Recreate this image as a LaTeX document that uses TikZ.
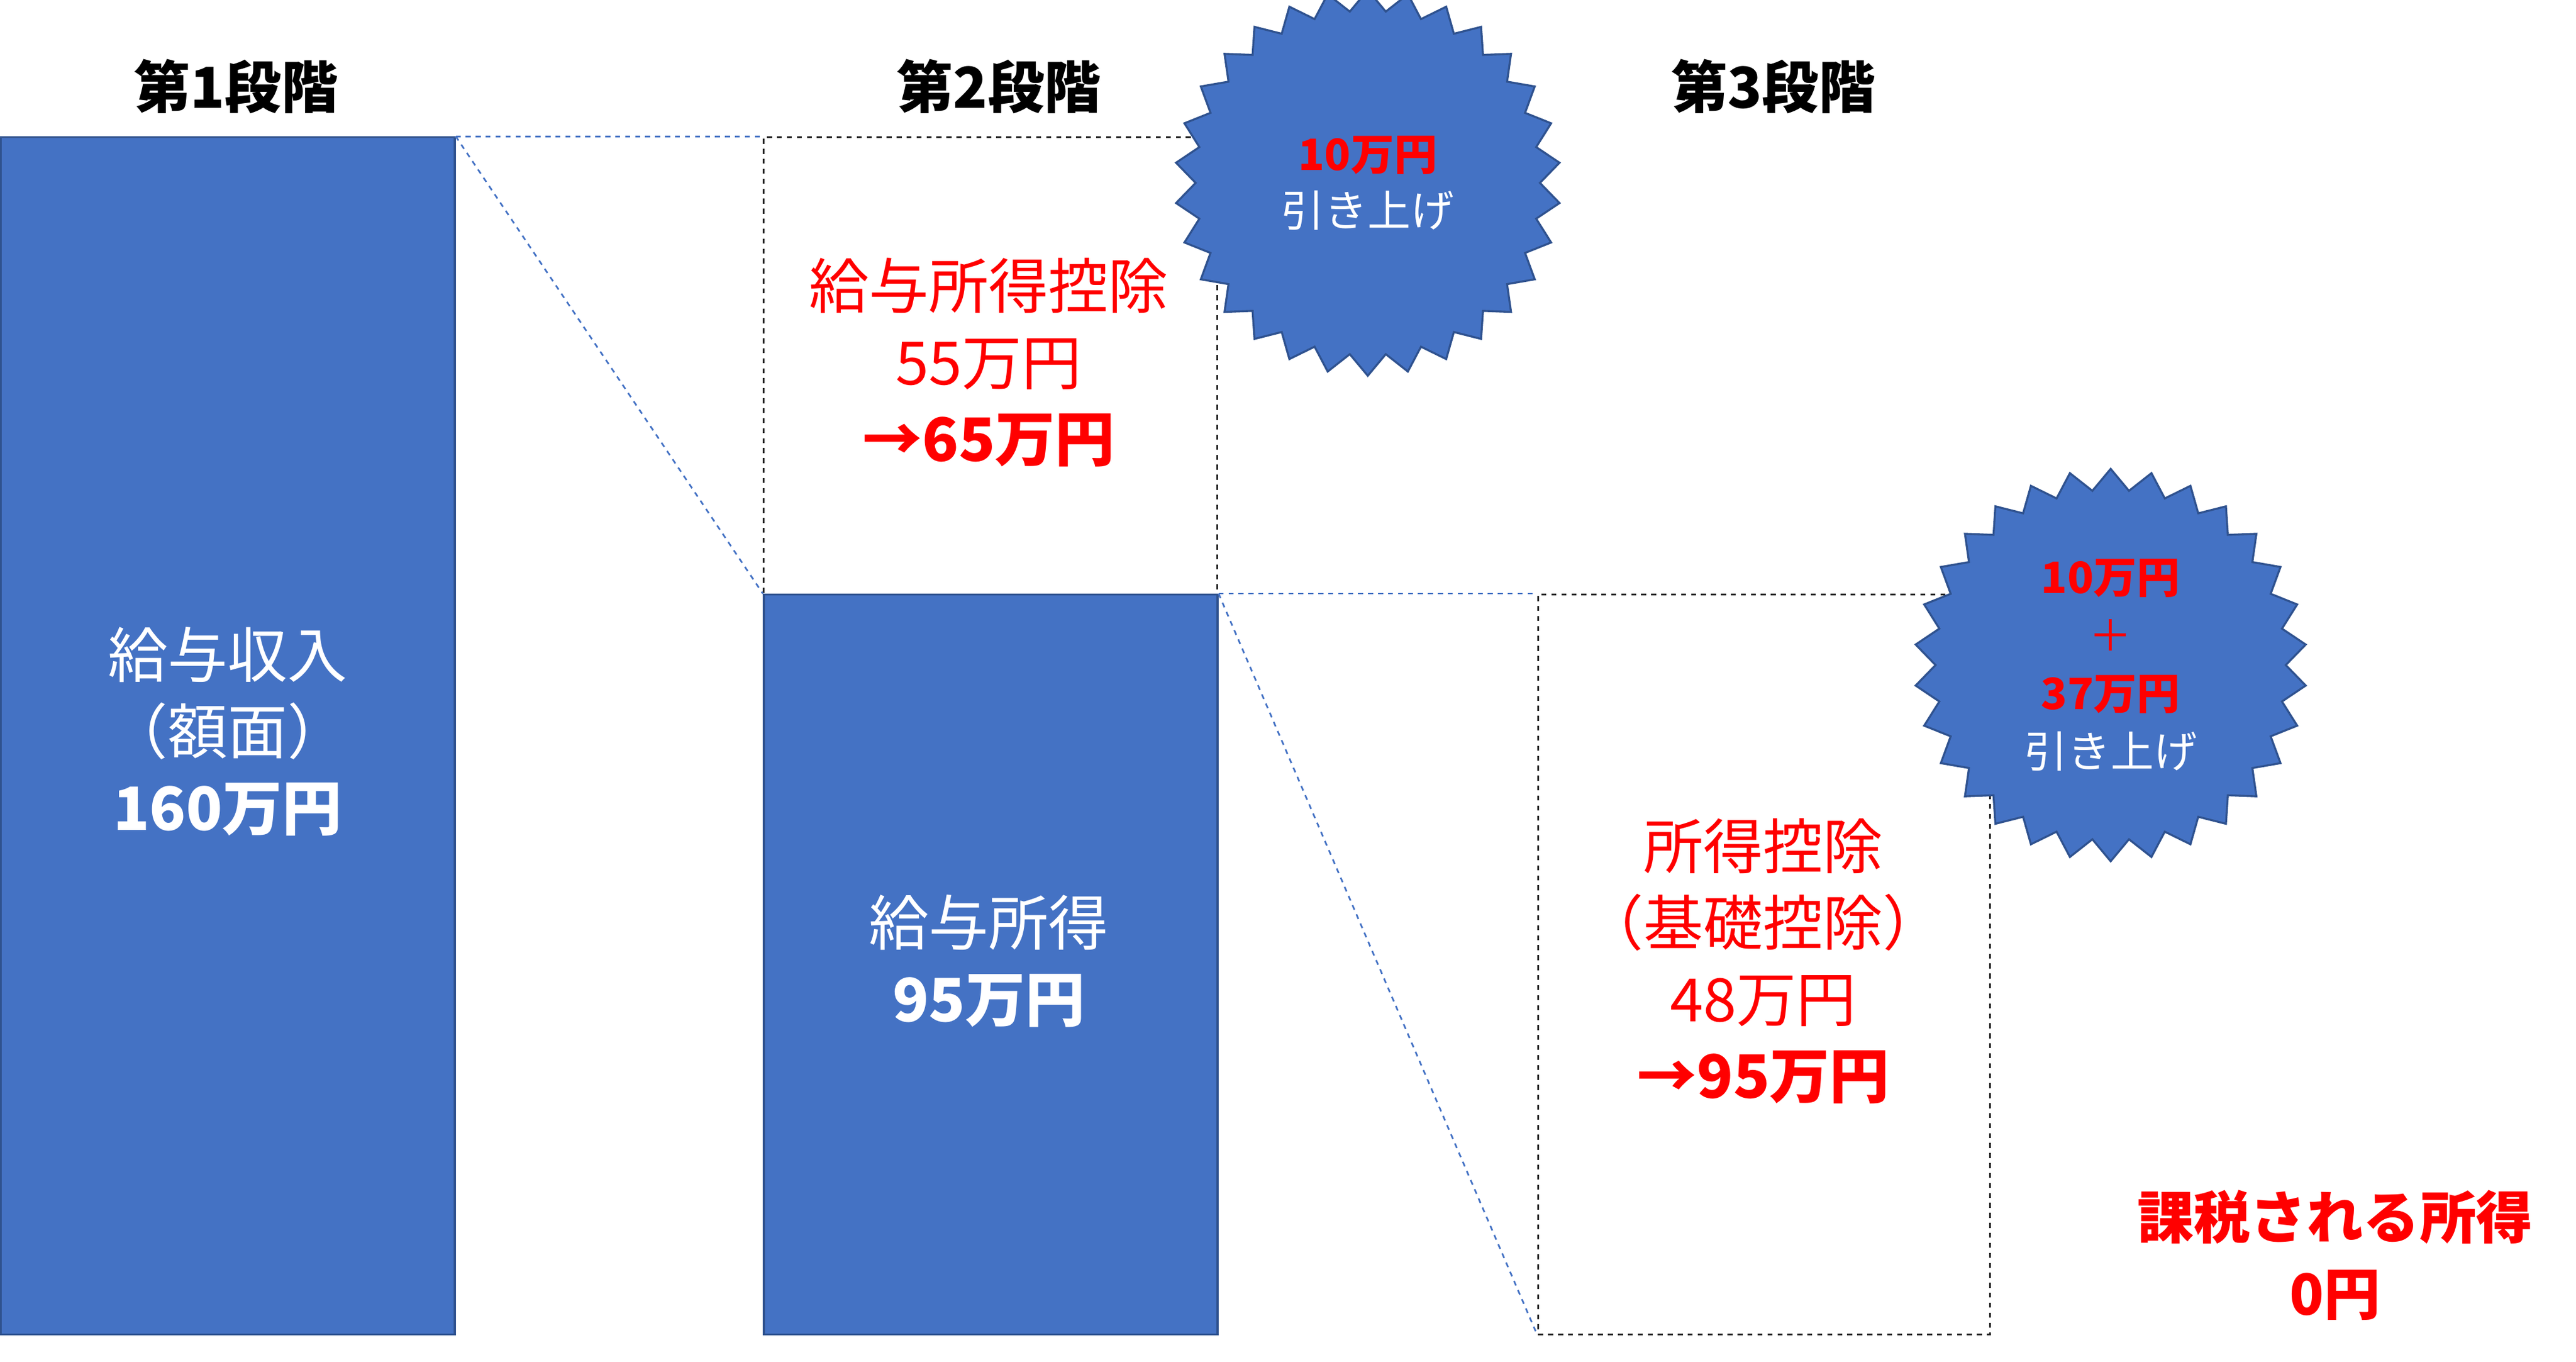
\documentclass[tikz,border=0pt]{standalone}
\usepackage{fontspec}
\setmainfont{Noto Sans CJK JP}
\newfontfamily\jpb{Noto Sans CJK JP Bold}
\usetikzlibrary{shapes.geometric}
\definecolor{bblue}{HTML}{4472C4}
\definecolor{bedge}{HTML}{2F528F}
\begin{document}
\begin{tikzpicture}[x=1pt,y=-1pt,
  bar/.style={fill=bblue,draw=bedge,line width=1.2pt},
  dbox/.style={draw=black!85,dashed,line width=1pt},
  conn/.style={draw=bblue,dashed,line width=1pt},
  burst/.style={star,star points=30,star point ratio=1.12,fill=bblue,draw=bedge,line width=1.2pt},
  txt/.style={align=center,font=\fontsize{36}{46}\selectfont},
  rtxt/.style={txt,text=red},
  ttl/.style={font=\fontsize{34}{40}\selectfont\bfseries}]
\useasboundingbox (0,0) rectangle (1550,819);
\node[bar,minimum width=273,minimum height=720,anchor=north west,inner sep=0] (b1) at (0,82) {};
\node[dbox,minimum width=273,minimum height=275,anchor=north west,inner sep=0] (d2) at (459,82) {};
\node[bar,minimum width=273,minimum height=445,anchor=north west,inner sep=0] (b2) at (459,357) {};
\node[dbox,minimum width=272,minimum height=445,anchor=north west,inner sep=0] (d3) at (925,357) {};
\draw[conn] (b1.north east) -- (d2.north west);
\draw[conn] (b1.north east) -- (b2.north west);
\draw[conn] (b2.north east) -- (d3.north west);
\draw[conn] (b2.north east) -- (d3.south west);
\node[ttl] (t1) at (142,52) {第1段階};
\node[ttl] (t2) at (601,52) {第2段階};
\node[ttl] (t3) at (1067,52) {第3段階};
\node[txt,text=white] (l1) at (137,440) {給与収入\\（額面）\\{\bfseries 160万円}};
\node[rtxt] (l2) at (595,218) {給与所得控除\\55万円\\{\bfseries →65万円}};
\node[txt,text=white] (l3) at (595,578) {給与所得\\{\bfseries 95万円}};
\node[rtxt] (l4) at (1061,578) {所得控除\\（基礎控除）\\48万円\\{\bfseries →95万円}};
\node[burst,minimum size=232] (s1) at (823,110) {};
\node[align=center,font=\fontsize{26}{34}\selectfont] at (s1) {\textcolor{red}{\bfseries 10万円}\\\textcolor{white}{引き上げ}};
\node[burst,minimum size=236] (s2) at (1270,400) {};
\node[align=center,font=\fontsize{26}{35}\selectfont] at (s2) {\textcolor{red}{\bfseries 10万円}\\\textcolor{red}{＋}\\\textcolor{red}{\bfseries 37万円}\\\textcolor{white}{引き上げ}};
\node[align=center,text=red,font=\fontsize{34}{46}\selectfont\bfseries] (r) at (1405,755) {課税される所得\\0円};
\end{tikzpicture}
\end{document}
